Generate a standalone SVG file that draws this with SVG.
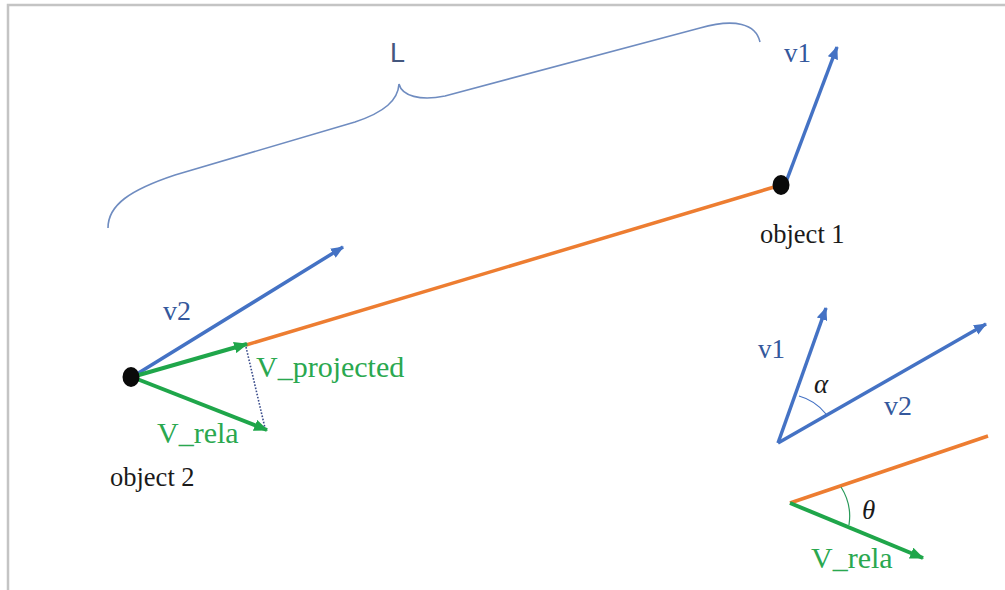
<svg xmlns="http://www.w3.org/2000/svg" width="1005" height="590" viewBox="0 0 1005 590">
<style>
.frame{stroke:#c4c4c4;stroke-width:2.5;fill:none}
.blue{stroke:#4472c4;stroke-width:3.5;fill:none}
.orange{stroke:#ed7d31;stroke-width:3.5;fill:none}
.green{stroke:#1fa64a;stroke-width:4;fill:none}
.brace{stroke:#6f8cc0;stroke-width:1.6;fill:none}
.dots{stroke:#3b4d8c;stroke-width:1.6;stroke-dasharray:1.6 1.6;fill:none}
.thin{stroke:#4472c4;stroke-width:1.2;fill:none}
.thing{stroke:#2a9a5a;stroke-width:1.2;fill:none}
.lbl{font-family:"Liberation Serif","Times New Roman",serif}
.vb{fill:#34589c}
.vg{fill:#2aa84f}
.obj{fill:#1a1a1a}
</style>
<defs>
<marker id="ab" viewBox="0 0 12 10" refX="11" refY="5" markerWidth="13" markerHeight="11" markerUnits="userSpaceOnUse" orient="auto"><path d="M0,0 L12,5 L0,10 z" fill="#4472c4"/></marker>
<marker id="ag" viewBox="0 0 12 10" refX="11" refY="5" markerWidth="14" markerHeight="12" markerUnits="userSpaceOnUse" orient="auto"><path d="M0,0 L12,5 L0,10 z" fill="#1fa64a"/></marker>
</defs>
<rect width="1005" height="590" fill="#ffffff"/>
<path class="frame" d="M8,590 L8,5 L1005,5"/>
<g id="connectors">
<path id="brace" class="brace" d="M108,228 C108,205 130,190 175,175 L355,122 C385,112 398,100 399,84 C402,96 420,101 445,96 L700,28 C735,18 756,24 760,42"/>
<line class="orange" x1="246" y1="345" x2="781" y2="185"/>
<line class="blue" x1="786" y1="182" x2="837" y2="47" marker-end="url(#ab)"/>
<line class="blue" x1="132" y1="377" x2="343" y2="247" marker-end="url(#ab)"/>
<line class="green" x1="132" y1="377" x2="247" y2="344" marker-end="url(#ag)"/>
<line class="green" x1="132" y1="377" x2="267" y2="430" marker-end="url(#ag)"/>
<line class="dots" x1="246" y1="347" x2="265" y2="428"/>
<line class="blue" x1="778" y1="443" x2="826" y2="308" marker-end="url(#ab)"/>
<line class="blue" x1="778" y1="443" x2="986" y2="324" marker-end="url(#ab)"/>
<path class="thin" d="M799,396 A52,52 0 0 1 826,414"/>
<line class="orange" x1="790" y1="503" x2="988" y2="436"/>
<line class="green" x1="790" y1="503" x2="923" y2="558" marker-end="url(#ag)"/>
<path class="thing" d="M841,487 A55,55 0 0 1 849,525"/>
</g>
<g id="L"><text x="390" y="62" font-family="'Liberation Sans','Open Sans',sans-serif" font-size="27" fill="#44577e">L</text></g>
<g id="object1">
<ellipse cx="781" cy="185" rx="8.5" ry="10" fill="#0a0a0a"/>
<text class="lbl obj" x="760" y="243" font-size="26.5">object 1</text>
<text class="lbl vb" x="784" y="62" font-size="27">v1</text>
</g>
<g id="object2">
<ellipse cx="131" cy="377" rx="8.5" ry="10" fill="#0a0a0a"/>
<text class="lbl obj" x="110" y="486" font-size="26.5">object 2</text>
<text class="lbl vb" x="163" y="320" font-size="28">v2</text>
<text class="lbl vg" x="256" y="377" font-size="30">V_projected</text>
<text class="lbl vg" x="157" y="443" font-size="30">V_rela</text>
</g>
<g id="angle-alpha">
<text class="lbl vb" x="758" y="358" font-size="27">v1</text>
<text class="lbl" x="814" y="393" font-size="27" font-style="italic" fill="#1a1a1a">α</text>
<text class="lbl vb" x="884" y="415" font-size="28">v2</text>
</g>
<g id="angle-theta">
<text class="lbl" x="862" y="519" font-size="27" font-style="italic" fill="#1a1a1a">θ</text>
<text class="lbl vg" x="811" y="568" font-size="30">V_rela</text>
</g>
</svg>
